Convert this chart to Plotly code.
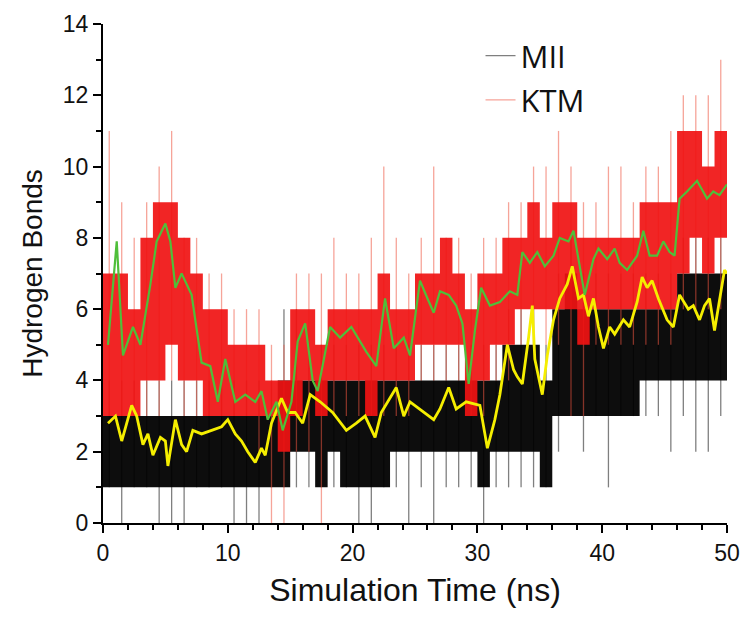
import plotly.graph_objects as go

# ---- data (1-ns bins) ----
bins = list(range(50))  # bin start times (ns)

# KTM raw hydrogen-bond counts: typical band (core) and extremes per 1-ns bin
ktm_lo  = [3,3,3,4,4,5,4,4,3,3, 3,3,3,3,2,3,4,3,4,4, 4,3,4,4,4,5,5,5,5,3, 4,5,5,6,6,6,6,6,5,6, 6,6,6,6,6,6,7,8,7,8]
ktm_hi  = [7,7,6,8,9,9,8,7,6,6, 5,5,5,4,4,6,6,5,6,6, 6,6,7,6,6,7,7,8,7,6, 7,7,8,8,9,8,9,9,8,8, 8,8,8,9,9,9,11,11,10,11]
ktm_min = [3,3,3,3,3,4,3,3,3,3, 3,3,2,0,0,2,2,0,3,3, 3,3,3,3,3,4,4,4,4,3, 3,4,4,5,5,5,5,3,3,5, 5,5,5,5,5,5,6,6,6,6]
ktm_max = [11,9,8,9,10,11,8,8,7,7, 6,6,6,5,5,7,7,7,8,7, 7,8,10,8,7,8,10,8,8,7, 8,8,9,9,10,10,11,10,9,9, 10,10,9,10,10,11,12,12,12,13]

# MII raw hydrogen-bond counts
mii_lo  = [1,1,1,1,1,1,1,1,1,1, 1,1,1,1,1,2,2,1,2,1, 1,1,1,2,2,2,2,2,2,2, 1,2,2,2,2,1,3,3,3,3, 3,3,3,4,4,4,4,4,4,4]
mii_hi  = [3,3,3,3,3,3,3,3,3,3, 3,3,3,3,4,4,4,4,4,4, 4,4,4,4,4,4,4,4,4,4, 4,4,5,5,5,4,6,7,6,6, 6,6,6,6,6,6,7,7,7,7]
mii_min = [1,0,1,1,0,0,0,1,1,1, 0,0,0,1,1,1,1,1,1,1, 0,0,1,1,0,1,0,1,1,1, 0,1,1,1,1,1,2,3,2,3, 1,3,3,3,3,2,3,2,2,3]
mii_max = [4,4,4,4,4,4,4,4,4,4, 4,4,4,4,6,6,5,5,5,5, 5,5,5,5,5,5,5,5,5,5, 5,5,6,6,6,5,7,8,7,7, 7,7,7,7,7,7,8,8,8,8]

# running averages (smoothed curves)
mii_avg_t = [0.4,1.0,1.5,2.3,2.7,3.2,3.6,4.0,4.6,5.0,5.2,5.8,6.3,6.7,7.2,7.9,8.7,9.5,10.0,10.6,
             11.1,11.6,12.2,12.7,13.0,13.5,14.3,14.8,15.4,16.0,16.6,17.4,18.4,19.5,20.3,21.0,21.8,22.3,23.5,24.1,
             24.6,25.4,26.5,27.0,27.7,28.3,29.1,30.2,30.8,31.4,31.8,32.4,32.9,33.2,33.6,34.1,34.4,34.6,35.2,35.6,
             36.1,36.6,37.2,37.6,38.1,38.5,38.9,39.3,39.7,40.1,40.6,41.0,41.7,42.2,42.8,43.2,43.6,44.0,44.5,45.2,
             45.7,46.2,46.9,47.3,47.8,48.2,48.6,49.0,49.6,49.8,50.0]
mii_avg = [2.8,3.0,2.3,3.3,3.0,2.2,2.5,1.9,2.4,2.3,1.6,2.9,2.2,2.0,2.6,2.5,2.6,2.7,2.9,2.5,
           2.3,2.0,1.7,2.1,1.9,2.8,3.5,3.1,3.1,2.8,3.6,3.4,3.1,2.6,2.8,3.0,2.4,3.1,3.8,3.0,
           3.4,3.2,2.9,3.2,3.8,3.2,3.4,3.3,2.1,2.9,3.6,5.0,4.3,4.1,3.9,5.2,6.1,4.6,3.6,4.7,
           5.7,6.3,6.7,7.2,6.3,6.4,5.8,6.3,5.5,4.9,5.5,5.3,5.7,5.5,6.2,6.9,6.6,6.8,6.3,5.7,
           5.5,6.4,6.0,6.1,5.7,6.1,6.3,5.4,6.6,7.1,7.0]

ktm_avg_t = [0.4,1.1,1.6,2.4,3.0,3.8,4.3,5.0,5.4,5.8,6.3,7.1,7.9,8.6,9.2,9.8,10.6,11.4,12.2,12.7,
             13.2,13.9,14.4,15.1,15.6,16.2,16.8,17.2,18.2,19.0,19.9,20.6,21.1,21.9,22.6,23.3,24.1,24.6,25.4,26.0,
             26.5,27.0,27.7,28.3,28.8,29.3,29.8,30.3,31.0,31.8,32.6,33.2,33.6,34.2,34.8,35.4,36.1,36.6,37.3,37.7,
             38.1,38.6,39.3,39.7,40.4,41.0,41.4,42.0,42.8,43.3,43.8,44.4,44.9,45.4,45.8,46.2,46.8,47.6,48.4,48.9,
             49.4,50.0]
ktm_avg = [5.0,7.9,4.7,5.5,5.0,6.7,7.9,8.4,7.9,6.6,7.0,6.4,4.5,4.4,3.4,4.6,3.4,3.6,3.4,3.7,
           2.9,3.4,2.6,3.4,5.1,5.6,4.0,3.7,5.5,5.2,5.5,5.1,4.8,4.4,6.3,4.9,5.2,4.7,6.8,6.3,
           5.9,6.5,6.4,6.1,5.6,3.9,5.4,6.6,6.1,6.2,6.5,6.4,7.6,7.3,7.6,7.2,7.5,8.0,7.9,8.2,
           7.4,6.4,7.4,7.7,7.4,7.7,7.3,7.1,7.5,8.2,7.5,7.5,7.9,7.6,7.5,9.1,9.3,9.6,9.1,9.3,
           9.2,9.5]

x_ticks = [0, 10, 20, 30, 40, 50]
y_ticks = [0, 2, 4, 6, 8, 10, 12, 14]

# ---- helpers building trace arrays from the data ----
edges = [b for b in bins] + [bins[-1] + 1]

def stepped(vals):
    return list(vals) + [vals[-1]]

def spikes(lo, hi):
    xs, ys = [], []
    for b, a, c in zip(bins, lo, hi):
        xs += [b + 0.5, b + 0.5, None]
        ys += [a, c, None]
    return xs, ys

fig = go.Figure()

# MII extremes (thin lines) -> legend entry
sx, sy = spikes(mii_min, mii_max)
fig.add_trace(go.Scatter(x=sx, y=sy, mode="lines", name="MII", legendgroup="mii", legendrank=1,
                         line=dict(color="rgba(0,0,0,0.5)", width=1.3),
                         hoverinfo="skip", showlegend=True))
# MII core band
fig.add_trace(go.Scatter(x=edges, y=stepped(mii_lo), mode="lines", line=dict(width=0, shape="hv"),
                         legendgroup="mii", showlegend=False, hoverinfo="skip"))
fig.add_trace(go.Scatter(x=edges, y=stepped(mii_hi), mode="lines", line=dict(width=0, shape="hv"),
                         fill="tonexty", fillcolor="rgba(0,0,0,0.95)", legendgroup="mii",
                         showlegend=False, hoverinfo="skip"))

# KTM extremes
sx, sy = spikes(ktm_min, ktm_max)
fig.add_trace(go.Scatter(x=sx, y=sy, mode="lines", name="KTM", legendgroup="ktm", legendrank=2,
                         line=dict(color="rgba(238,90,70,0.55)", width=1.3),
                         hoverinfo="skip", showlegend=True))
# KTM core band
fig.add_trace(go.Scatter(x=edges, y=stepped(ktm_lo), mode="lines", line=dict(width=0, shape="hv"),
                         legendgroup="ktm", showlegend=False, hoverinfo="skip"))
fig.add_trace(go.Scatter(x=edges, y=stepped(ktm_hi), mode="lines", line=dict(width=0, shape="hv"),
                         fill="tonexty", fillcolor="rgba(240,18,18,0.92)", legendgroup="ktm",
                         showlegend=False, hoverinfo="skip"))

# smoothed curves
fig.add_trace(go.Scatter(x=mii_avg_t, y=mii_avg, mode="lines", line=dict(color="#f5ee00", width=2.8),
                         showlegend=False, hoverinfo="skip"))
fig.add_trace(go.Scatter(x=ktm_avg_t, y=ktm_avg, mode="lines", line=dict(color="#4fbf3a", width=2.2),
                         showlegend=False, hoverinfo="skip"))

axis_common = dict(showgrid=False, zeroline=False, showline=True, linecolor="black", linewidth=2,
                   ticks="outside", tickcolor="black", tickwidth=2, ticklen=8,
                   ticklabeloverflow="allow", automargin=False,
                   tickfont=dict(family="Liberation Sans, Arial", size=23, color="#111"))

fig.update_layout(
    width=742, height=618,
    margin=dict(l=95, r=23, t=16, b=103),
    paper_bgcolor="white", plot_bgcolor="white",
    xaxis=dict(range=[0, 50], tickvals=x_ticks,
               title=dict(text="Simulation Time (ns)", font=dict(family="Liberation Sans, Arial", size=32, color="#111"),
                          standoff=14),
               minor=dict(ticks="outside", dtick=2, ticklen=5, tickwidth=1.5, tickcolor="black"),
               **axis_common),
    yaxis=dict(range=[0, 14], tickvals=y_ticks,
               title=dict(text="Hydrogen Bonds", font=dict(family="Liberation Sans, Arial", size=28, color="#111"),
                          standoff=12),
               minor=dict(ticks="outside", dtick=1, ticklen=5, tickwidth=1.5, tickcolor="black"),
               **axis_common),
    legend=dict(x=0.605, y=0.99, xanchor="left", yanchor="top", bgcolor="rgba(0,0,0,0)",
                font=dict(family="Open Sans, Liberation Sans", size=31, color="#111"),
                traceorder="grouped", tracegroupgap=1),
    showlegend=True,
)

fig.write_html("out.html")
